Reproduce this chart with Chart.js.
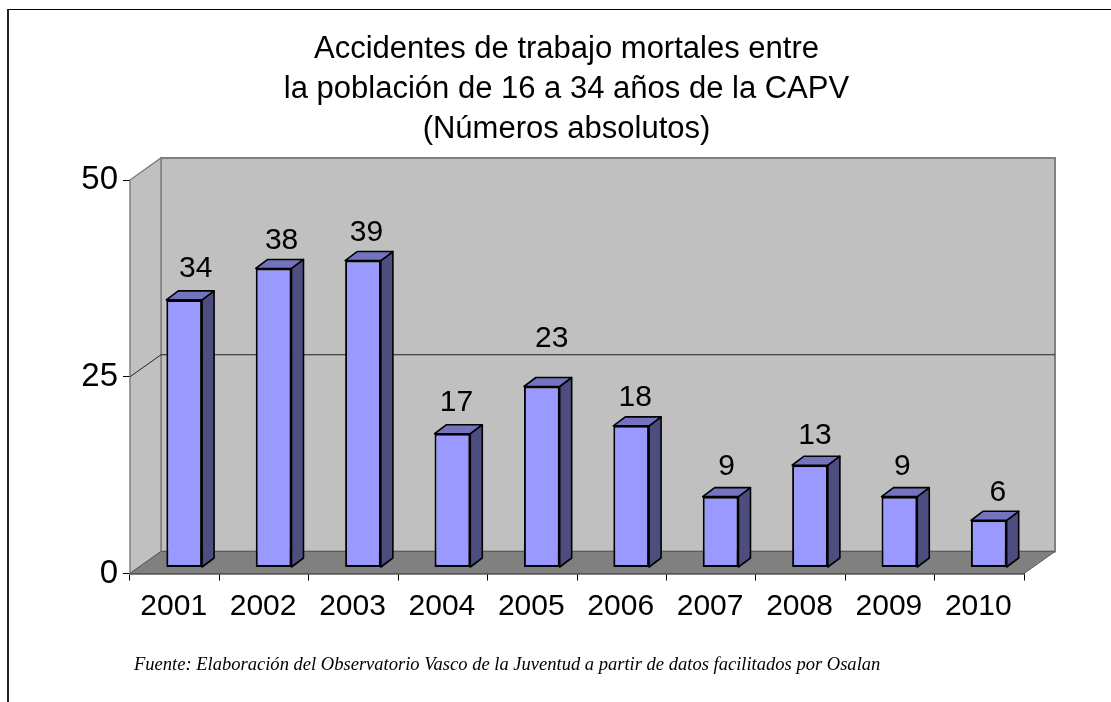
<!DOCTYPE html>
<html lang="es">
<head>
<meta charset="utf-8">
<title>Accidentes de trabajo mortales</title>
<script src="https://cdn.jsdelivr.net/npm/chart.js@4"></script>
<style>
    html, body { margin: 0; padding: 0; background: #fff; overflow: hidden; }
    #wrap { position: relative; width: 1111px; height: 702px; }
    #frame { position: absolute; left: 7px; top: 9px; right: 0; bottom: 0; border-top: 1px solid #000; border-left: 2px solid #222; }
    #fuente { position: absolute; left: 134px; top: 653px; font: italic 18.55px "Liberation Serif", serif; color: #000; white-space: nowrap; }
    canvas { position: absolute; left: 0; top: 0; }
</style>
</head>
<body>
<div id="wrap">
    <div id="frame"></div>
    <canvas id="chart" width="1111" height="702"></canvas>
    <div id="fuente">Fuente: Elaboración del Observatorio Vasco de la Juventud a partir de datos facilitados por Osalan</div>
</div>
<script>
// Data
const years = ['2001', '2002', '2003', '2004', '2005', '2006', '2007', '2008', '2009', '2010'];
const accidents = [34, 38, 39, 17, 23, 18, 9, 13, 9, 6];
const yTicks = [0, 25, 50];
const titleLines = [
    'Accidentes de trabajo mortales entre',
    'la población de 16 a 34 años de la CAPV',
    '(Números absolutos)'
];

// 3D look: how far the back wall and the bars sit behind the front plane
const WALL_DX = 31, WALL_DY = -22;
const BAR_SHIFT_X = 9.5, BAR_SHIFT_Y = -6;
const BAR_DX = 12, BAR_DY = -9;
const FONT = '"Liberation Sans", Arial, sans-serif';

// Label placement differs a little per bar in the original
const labelNudgeX = [11.5, 8, 3.5, 4, 10, 4, 6, 5, 3, 9];
const labelLift = [23, 19, 20, 23, 39, 20, 22, 21, 22, 19];

function poly(ctx, pts, fill, stroke, lineWidth) {
    ctx.beginPath();
    pts.forEach((p, i) => i ? ctx.lineTo(p[0], p[1]) : ctx.moveTo(p[0], p[1]));
    ctx.closePath();
    if (fill) { ctx.fillStyle = fill; ctx.fill(); }
    if (stroke) { ctx.strokeStyle = stroke; ctx.lineWidth = lineWidth; ctx.stroke(); }
}

const box3d = {
    id: 'box3d',
    // walls and floor go under the bars
    beforeDatasetsDraw(chart) {
        const ctx = chart.ctx, a = chart.chartArea, y = chart.scales.y;
        const l = a.left, r = a.right, t = a.top, b = a.bottom;
        ctx.save();
        poly(ctx, [[l + WALL_DX, t + WALL_DY], [r + WALL_DX, t + WALL_DY], [r + WALL_DX, b + WALL_DY], [l + WALL_DX, b + WALL_DY]], '#c0c0c0', '#808080', 2);
        poly(ctx, [[l, t], [l + WALL_DX, t + WALL_DY], [l + WALL_DX, b + WALL_DY], [l, b]], '#c0c0c0', '#808080', 1.5);
        poly(ctx, [[l, b], [l + WALL_DX, b + WALL_DY], [r + WALL_DX, b + WALL_DY], [r, b]], '#808080', '#5a5a5a', 1);

        // gridlines run along side wall and back wall
        yTicks.slice(1, -1).forEach(v => {
            const py = y.getPixelForValue(v);
            ctx.beginPath();
            ctx.moveTo(l, py);
            ctx.lineTo(l + WALL_DX, py + WALL_DY);
            ctx.lineTo(r + WALL_DX, py + WALL_DY);
            ctx.strokeStyle = '#222';
            ctx.lineWidth = 1;
            ctx.stroke();
        });
        ctx.restore();
    },
    beforeDatasetDraw(chart, args) {
        const ctx = chart.ctx;
        ctx.save();
        ctx.translate(BAR_SHIFT_X, BAR_SHIFT_Y);
        ctx.lineJoin = 'round';
        args.meta.data.forEach(bar => {
            const p = bar.getProps(['x', 'y', 'base', 'width'], true);
            const x0 = p.x - p.width / 2, x1 = p.x + p.width / 2;
            poly(ctx, [[x1, p.y], [x1 + BAR_DX, p.y + BAR_DY], [x1 + BAR_DX, p.base + BAR_DY], [x1, p.base]], '#4d4d80', '#000', 1.6);
            poly(ctx, [[x0, p.y], [x0 + BAR_DX, p.y + BAR_DY], [x1 + BAR_DX, p.y + BAR_DY], [x1, p.y]], '#7373bf', '#000', 1.6);
        });
    },
    afterDatasetDraw(chart) {
        chart.ctx.restore();
    },
    afterDatasetsDraw(chart) {
        const ctx = chart.ctx, bars = chart.getDatasetMeta(0).data;
        ctx.save();
        ctx.font = '30px ' + FONT;
        ctx.fillStyle = '#000';
        ctx.textAlign = 'center';
        ctx.textBaseline = 'alphabetic';
        bars.forEach((bar, i) => {
            const p = bar.getProps(['x', 'y'], true);
            ctx.fillText(accidents[i], p.x + BAR_SHIFT_X + labelNudgeX[i], p.y + BAR_SHIFT_Y - labelLift[i]);
        });
        ctx.restore();
    }
};

new Chart(document.getElementById('chart').getContext('2d'), {
    type: 'bar',
    data: {
        labels: years,
        datasets: [{
            data: accidents,
            backgroundColor: '#9999ff',
            borderColor: '#000',
            borderWidth: 2,
            borderSkipped: false,
            categoryPercentage: 1,
            barPercentage: 0.4
        }]
    },
    plugins: [box3d],
    options: {
        responsive: false,
        animation: false,
        layout: { padding: { left: 22, right: 0, top: 0, bottom: 0 } },
        plugins: {
            legend: { display: false },
            tooltip: { enabled: false },
            title: {
                display: true,
                text: titleLines,
                color: '#000',
                font: { family: FONT, size: 31, weight: 'normal', lineHeight: 40 / 31 },
                padding: { top: 29, bottom: 31 }
            }
        },
        scales: {
            x: {
                grid: { offset: true, drawOnChartArea: false, drawTicks: true, tickLength: 7, color: '#000' },
                border: { color: '#000', width: 1.5 },
                ticks: { color: '#000', font: { family: FONT, size: 30 }, padding: 8, labelOffset: -1, maxRotation: 0, autoSkip: false },
                afterFit(scale) { scale.height = 128.5; }
            },
            y: {
                min: 0,
                max: 50,
                afterBuildTicks(scale) { scale.ticks = yTicks.map(v => ({ value: v })); },
                grid: { drawOnChartArea: false, drawTicks: true, tickLength: 7, color: '#000' },
                border: { color: '#333', width: 1 },
                ticks: { color: '#000', font: { family: FONT, size: 33 }, padding: 5 },
                afterFit(scale) { scale.width = 108; }
            },
            // empty axis that only keeps the room on the right for the back wall
            yRight: {
                position: 'right',
                grid: { display: false },
                border: { display: false },
                ticks: { display: false },
                afterFit(scale) { scale.width = 87; }
            }
        }
    }
});
</script>
</body>
</html>
